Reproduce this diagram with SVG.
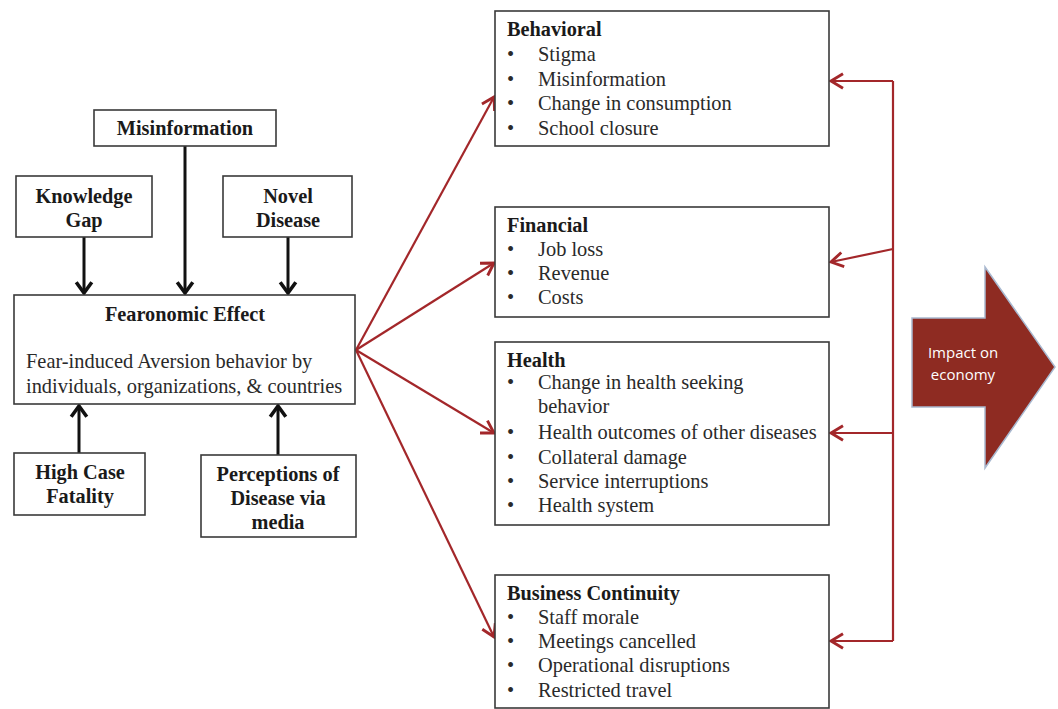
<svg xmlns="http://www.w3.org/2000/svg" width="1058" height="709" viewBox="0 0 1058 709">
  <style>
    .box { fill: #ffffff; stroke: #3a3a3a; stroke-width: 1.6; }
    .hd { font-family: "Liberation Serif", "Times New Roman", serif; font-weight: bold; font-size: 20.3px; fill: #1a1a1a; }
    .hc { font-family: "Liberation Serif", "Times New Roman", serif; font-weight: bold; font-size: 20.3px; fill: #1a1a1a; text-anchor: middle; }
    .tx { font-family: "Liberation Serif", "Times New Roman", serif; font-size: 20.4px; fill: #2a2a2a; }
    .blk { stroke: #111111; stroke-width: 3; fill: none; }
    .red { stroke: #a3272a; stroke-width: 2.2; fill: none; }
    .big { font-family: "Open Sans", "Liberation Sans", sans-serif; font-size: 15px; fill: #ffffff; text-anchor: middle; }
  </style>
  <defs>
    <marker id="ahBlack" markerUnits="userSpaceOnUse" markerWidth="24" markerHeight="24" viewBox="-14 -10 18 20" refX="0" refY="0" orient="auto" overflow="visible">
      <path d="M-9,-6.5 L0,0 L-9,6.5" fill="none" stroke="#111111" stroke-width="3" stroke-linejoin="miter"/>
    </marker>
    <marker id="ahRed" markerUnits="userSpaceOnUse" markerWidth="24" markerHeight="24" viewBox="-14 -10 18 20" refX="0" refY="0" orient="auto" overflow="visible">
      <path d="M-10,-6 L0,0 L-10,6" fill="none" stroke="#a3272a" stroke-width="2.4"/>
    </marker>
  </defs>

  <rect width="1058" height="709" fill="#ffffff"/>

  <!-- connectors -->
  <g id="connectors">
    <!-- drivers into the central box -->
    <line class="blk" x1="84" y1="237" x2="84" y2="293" marker-end="url(#ahBlack)"/>
    <line class="blk" x1="185" y1="146" x2="185" y2="293" marker-end="url(#ahBlack)"/>
    <line class="blk" x1="288" y1="237" x2="288" y2="293" marker-end="url(#ahBlack)"/>
    <line class="blk" x1="79" y1="453" x2="79" y2="406" marker-end="url(#ahBlack)"/>
    <line class="blk" x1="278" y1="455" x2="278" y2="406" marker-end="url(#ahBlack)"/>
    <!-- fan out to impact categories -->
    <line class="red" x1="356" y1="350" x2="494" y2="97" marker-end="url(#ahRed)"/>
    <line class="red" x1="356" y1="350" x2="494" y2="263" marker-end="url(#ahRed)"/>
    <line class="red" x1="356" y1="350" x2="494" y2="433" marker-end="url(#ahRed)"/>
    <line class="red" x1="356" y1="350" x2="494" y2="637" marker-end="url(#ahRed)"/>
    <!-- feedback bus on the right -->
    <line class="red" x1="893" y1="81" x2="893" y2="641"/>
    <line class="red" x1="893" y1="81" x2="831" y2="81" marker-end="url(#ahRed)"/>
    <line class="red" x1="893" y1="249" x2="831" y2="262" marker-end="url(#ahRed)"/>
    <line class="red" x1="893" y1="433" x2="831" y2="433" marker-end="url(#ahRed)"/>
    <line class="red" x1="893" y1="641" x2="831" y2="641" marker-end="url(#ahRed)"/>
  </g>

  <g id="misinformation">
    <rect class="box" x="94" y="110" width="182" height="36"/>
    <text class="hc" x="185" y="135">Misinformation</text>
  </g>

  <g id="knowledge-gap">
    <rect class="box" x="16" y="176" width="136" height="61"/>
    <text class="hc" x="84" y="203">Knowledge</text>
    <text class="hc" x="84" y="227">Gap</text>
  </g>

  <g id="novel-disease">
    <rect class="box" x="223" y="176" width="129" height="61"/>
    <text class="hc" x="288" y="203">Novel</text>
    <text class="hc" x="288" y="227">Disease</text>
  </g>

  <g id="fearonomic-effect">
    <rect class="box" x="14" y="295" width="341" height="109"/>
    <text class="hc" x="185" y="321">Fearonomic Effect</text>
    <text class="tx" x="26" y="368">Fear-induced Aversion behavior by</text>
    <text class="tx" x="26" y="393">individuals, organizations, &amp; countries</text>
  </g>

  <g id="high-case-fatality">
    <rect class="box" x="14" y="453" width="131" height="62"/>
    <text class="hc" x="80" y="479">High Case</text>
    <text class="hc" x="80" y="503">Fatality</text>
  </g>

  <g id="perceptions">
    <rect class="box" x="201" y="455" width="155" height="82"/>
    <text class="hc" x="278" y="481">Perceptions of</text>
    <text class="hc" x="278" y="505">Disease via</text>
    <text class="hc" x="278" y="529">media</text>
  </g>

  <g id="behavioral">
    <rect class="box" x="495" y="11" width="334" height="135"/>
    <text class="hd" x="507" y="36">Behavioral</text>
    <text class="tx" x="507" y="61">•</text><text class="tx" x="538" y="61">Stigma</text>
    <text class="tx" x="507" y="86">•</text><text class="tx" x="538" y="86">Misinformation</text>
    <text class="tx" x="507" y="110">•</text><text class="tx" x="538" y="110">Change in consumption</text>
    <text class="tx" x="507" y="135">•</text><text class="tx" x="538" y="135">School closure</text>
  </g>

  <g id="financial">
    <rect class="box" x="495" y="207" width="334" height="110"/>
    <text class="hd" x="507" y="232">Financial</text>
    <text class="tx" x="507" y="256">•</text><text class="tx" x="538" y="256">Job loss</text>
    <text class="tx" x="507" y="280">•</text><text class="tx" x="538" y="280">Revenue</text>
    <text class="tx" x="507" y="304">•</text><text class="tx" x="538" y="304">Costs</text>
  </g>

  <g id="health">
    <rect class="box" x="495" y="342" width="334" height="183"/>
    <text class="hd" x="507" y="367">Health</text>
    <text class="tx" x="507" y="389">•</text><text class="tx" x="538" y="389">Change in health seeking</text>
    <text class="tx" x="538" y="413">behavior</text>
    <text class="tx" x="507" y="439">•</text><text class="tx" x="538" y="439">Health outcomes of other diseases</text>
    <text class="tx" x="507" y="464">•</text><text class="tx" x="538" y="464">Collateral damage</text>
    <text class="tx" x="507" y="488">•</text><text class="tx" x="538" y="488">Service interruptions</text>
    <text class="tx" x="507" y="512">•</text><text class="tx" x="538" y="512">Health system</text>
  </g>

  <g id="business-continuity">
    <rect class="box" x="495" y="575" width="334" height="133"/>
    <text class="hd" x="507" y="600">Business Continuity</text>
    <text class="tx" x="507" y="624">•</text><text class="tx" x="538" y="624">Staff morale</text>
    <text class="tx" x="507" y="648">•</text><text class="tx" x="538" y="648">Meetings cancelled</text>
    <text class="tx" x="507" y="672">•</text><text class="tx" x="538" y="672">Operational disruptions</text>
    <text class="tx" x="507" y="697">•</text><text class="tx" x="538" y="697">Restricted travel</text>
  </g>

  <g id="impact-on-economy">
    <polygon points="912,318 985,318 985,267 1055,367 985,468 985,407 912,407" fill="#8e2b22" stroke="#a9b9d0" stroke-width="1.5" stroke-linejoin="miter"/>
    <text class="big" x="963" y="358">Impact on</text>
    <text class="big" x="963" y="380">economy</text>
  </g>
</svg>
